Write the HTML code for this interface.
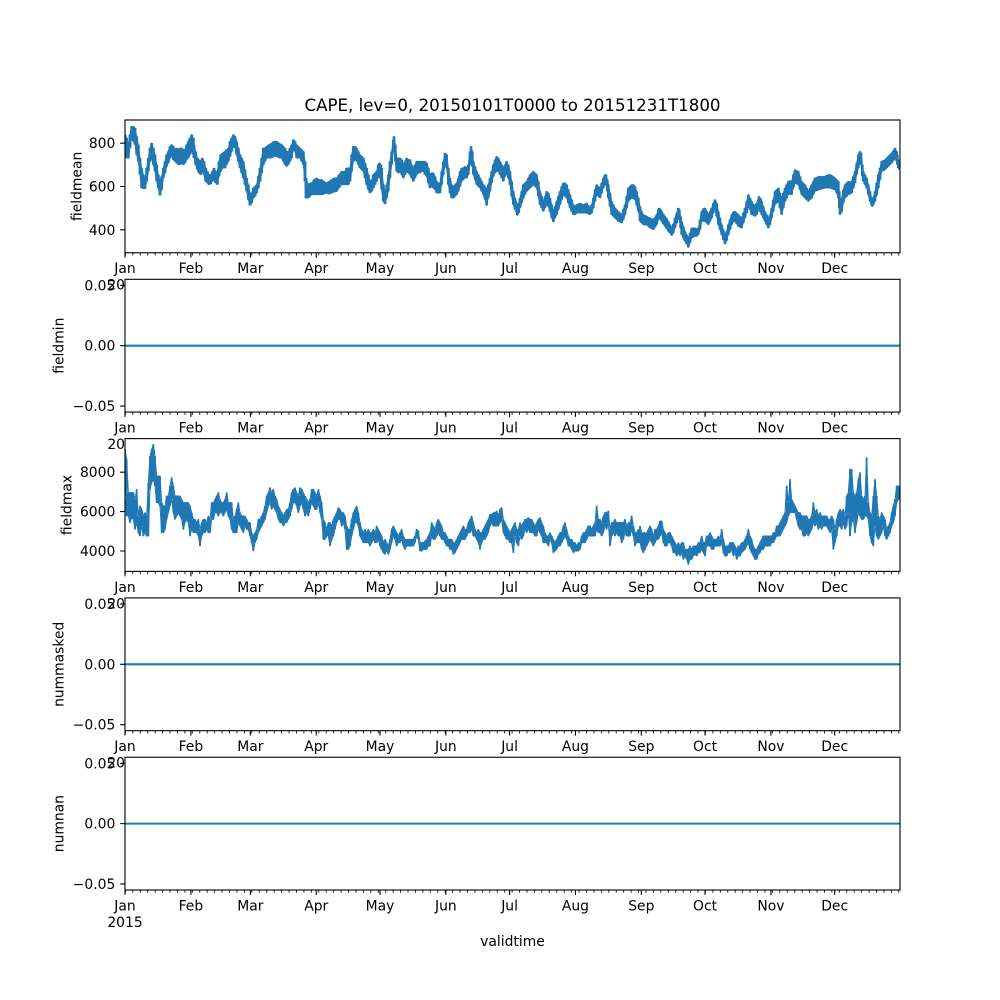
<!DOCTYPE html>
<html><head><meta charset="utf-8"><style>
html,body{margin:0;padding:0;background:#fff;}
svg{display:block;}
text{font-family:"DejaVu Sans","Liberation Sans",sans-serif;fill:#000;}
.tk{font-size:13.89px;}
.d{fill:none;stroke:#1f77b4;stroke-linejoin:round;}
</style></head><body>
<svg width="1000" height="1000" viewBox="0 0 1000 1000" xmlns="http://www.w3.org/2000/svg">
<defs>
<clipPath id="c1"><rect x="125" y="120" width="775" height="132.76"/></clipPath>
<clipPath id="c3"><rect x="125" y="438.62" width="775" height="132.76"/></clipPath>
</defs>
<rect width="1000" height="1000" fill="#fff"/>

<text x="512.5" y="111" font-size="16.67" text-anchor="middle">CAPE, lev=0, 20150101T0000 to 20151231T1800</text>

<!-- ================= PANEL 1 ================= -->
<rect x="125" y="120" width="775" height="132.76" fill="#fff"/>
<g clip-path="url(#c1)">
<g transform="translate(120 118) scale(0.333333)">
<path class="d" stroke-width="8.5" d="M15 50V115M20 60V120M25 80V120M30 50V90M35 25V60M40 25V70M45 30V80M50 55V110M55 80V130M60 120V170M65 150V210M70 170V212M75 185V212M80 150V190M85 120V160M90 90V130M95 75V120M100 90V140M105 110V160M110 140V190M115 170V210M120 190V232M125 175V215M130 150V180M135 130V165M140 110V145M145 100V135M150 85V120M155 80V110M160 85V125M165 95V130M170 90V135M175 95V140M180 90V140M185 90V135M190 95V140M195 95V135M200 80V125M205 70V120M210 60V110M215 50V100M220 60V110M222 80V120M227 100V140M232 120V155M237 125V165M242 130V170M247 120V160M252 130V170M257 150V190M262 160V195M267 170V200M272 170V198M277 160V190M282 150V185M287 160V195M292 160V200M297 130V175M302 110V160M308 105V150M315 100V150M320 95V140M325 90V130M330 70V115M335 60V100M340 50V85M345 55V90M350 70V110M355 90V130M360 110V150M365 120V165M370 130V180M375 155V200M380 180V220M385 200V245M390 225V262M395 225V255M400 210V240M405 205V235M410 200V225M415 175V210M420 150V190M425 120V165M430 90V140M435 90V130M440 85V120M447 80V120M455 75V120M462 70V115M470 70V115M477 75V120M485 80V120M490 85V130M495 90V140M500 100V145M505 100V140M510 90V130M515 80V120M520 65V95M525 70V100M530 80V120M535 85V120M540 90V120M545 95V130M550 100V140M555 130V190M558 180V240M565 200V240M570 195V235M575 195V230M582 185V230M590 180V230M597 185V230M605 185V230M612 190V228M620 195V225M627 190V228M635 185V225M642 180V222M650 180V220M657 170V210M665 160V200M670 160V200M675 160V200M680 150V200M685 150V200M690 150V190M695 110V160M700 85V130M705 85V125M710 90V130M715 100V140M720 110V150M725 115V155M730 120V160M735 135V180M740 150V200M745 170V215M750 190V225M755 185V220M760 170V210M765 165V200M770 160V190M775 140V175M778 135V170M782 140V180M785 150V200M790 200V240M795 225V255"/>
<path class="d" stroke-width="3" d="M15 50L20 60 25 80 30 50 35 25 40 25 45 30 50 55 55 80 60 120 65 150 70 170 75 185 80 150 85 120 90 90 95 75 100 90 105 110 110 140 115 170 120 190 125 175 130 150 135 130 140 110 145 100 150 85 155 80 160 85 165 95 170 90 175 95 180 90 185 90 190 95 195 95 200 80 205 70 210 60 215 50 220 60 222 80 227 100 232 120 237 125 242 130 247 120 252 130 257 150 262 160 267 170 272 170 277 160 282 150 287 160 292 160 297 130 302 110 308 105 315 100 320 95 325 90 330 70 335 60 340 50 345 55 350 70 355 90 360 110 365 120 370 130 375 155 380 180 385 200 390 225 395 225 400 210 405 205 410 200 415 175 420 150 425 120 430 90 435 90 440 85 447 80 455 75 462 70 470 70 477 75 485 80 490 85 495 90 500 100 505 100 510 90 515 80 520 65 525 70 530 80 535 85 540 90 545 95 550 100 555 130 558 180 565 200 570 195 575 195 582 185 590 180 597 185 605 185 612 190 620 195 627 190 635 185 642 180 650 180 657 170 665 160 670 160 675 160 680 150 685 150 690 150 695 110 700 85 705 85 710 90 715 100 720 110 725 115 730 120 735 135 740 150 745 170 750 190 755 185 760 170 765 165 770 160 775 140 778 135 782 140 785 150 790 200 795 225"/>
<path class="d" stroke-width="3" d="M15 115L20 120 25 120 30 90 35 60 40 70 45 80 50 110 55 130 60 170 65 210 70 212 75 212 80 190 85 160 90 130 95 120 100 140 105 160 110 190 115 210 120 232 125 215 130 180 135 165 140 145 145 135 150 120 155 110 160 125 165 130 170 135 175 140 180 140 185 135 190 140 195 135 200 125 205 120 210 110 215 100 220 110 222 120 227 140 232 155 237 165 242 170 247 160 252 170 257 190 262 195 267 200 272 198 277 190 282 185 287 195 292 200 297 175 302 160 308 150 315 150 320 140 325 130 330 115 335 100 340 85 345 90 350 110 355 130 360 150 365 165 370 180 375 200 380 220 385 245 390 262 395 255 400 240 405 235 410 225 415 210 420 190 425 165 430 140 435 130 440 120 447 120 455 120 462 115 470 115 477 120 485 120 490 130 495 140 500 145 505 140 510 130 515 120 520 95 525 100 530 120 535 120 540 120 545 130 550 140 555 190 558 240 565 240 570 235 575 230 582 230 590 230 597 230 605 230 612 228 620 225 627 228 635 225 642 222 650 220 657 210 665 200 670 200 675 200 680 200 685 200 690 190 695 160 700 130 705 125 710 130 715 140 720 150 725 155 730 160 735 180 740 200 745 215 750 225 755 220 760 210 765 200 770 190 775 175 778 170 782 180 785 200 790 240 795 255"/>
</g>
<g transform="translate(380 118) scale(0.333333)">
<path class="d" stroke-width="8" d="M0 140V180M5 170V215M10 200V250M15 225V258M20 200V240M25 170V220M30 130V180M35 100V140M40 65V100M42 55V90M46 80V130M50 120V160M55 120V165M60 120V160M65 125V170M70 140V180M75 130V170M80 120V160M85 125V165M90 125V170M95 140V180M100 150V190M105 140V180M110 130V170M115 130V165M120 130V165M125 130V160M130 130V160M135 130V170M140 135V175M145 150V195M150 170V210M155 165V205M160 165V210M165 175V215M170 190V225M175 195V225M180 195V225M185 160V200M190 130V170M195 105V140M200 110V150M205 150V200M210 180V225M215 200V240M220 205V240M225 200V235M230 195V230M235 180V220M240 160V205M245 150V190M250 150V185M255 145V180M260 150V180M265 140V170M270 100V140M273 85V120M277 100V145M280 130V170M285 145V185M290 160V200M295 170V205M300 180V210M305 190V220M310 200V230M315 205V245M320 215V262M325 200V240M330 180V220M335 160V195M340 140V175M345 125V165M350 115V160M355 120V160M360 130V170M365 140V180M370 150V190M375 140V175M380 130V165M385 140V180M390 160V200M395 190V235M400 220V260M405 240V275M412 260V292M416 255V285M420 240V270M425 220V255M430 200V240M435 195V230M440 190V220M445 180V215M450 170V210M455 165V205M460 160V200M465 165V205M470 170V210M475 190V235M480 220V260M485 235V270M490 250V280M495 235V270M500 220V260M505 225V265M510 240V280M515 260V300M520 280V312M525 265V300M530 250V290M535 235V275M540 220V260M545 205V245M550 195V230M555 195V235M560 200V240M565 215V255M570 230V270M575 245V280M580 260V290M585 265V290M590 260V285M595 258V285M600 255V285M605 258V285M610 260V285M615 258V285M620 255V285M625 262V288M630 270V290M635 260V285M640 240V270M645 215V250M650 200V230M655 205V235M660 210V240M665 195V225M670 180V210M675 170V200M678 170V200M682 185V220M685 200V240M690 225V265M695 250V290M700 260V295M705 270V300M710 275V305M715 280V310M720 285V312M725 290V315M730 275V305M735 260V290M740 235V270M745 210V250M750 205V245M755 200V240M760 200V242M765 205V245M770 220V262M775 240V280M780 265V298M785 285V310M790 295V318M795 305V322"/>
<path class="d" stroke-width="3" d="M0 140L5 170 10 200 15 225 20 200 25 170 30 130 35 100 40 65 42 55 46 80 50 120 55 120 60 120 65 125 70 140 75 130 80 120 85 125 90 125 95 140 100 150 105 140 110 130 115 130 120 130 125 130 130 130 135 130 140 135 145 150 150 170 155 165 160 165 165 175 170 190 175 195 180 195 185 160 190 130 195 105 200 110 205 150 210 180 215 200 220 205 225 200 230 195 235 180 240 160 245 150 250 150 255 145 260 150 265 140 270 100 273 85 277 100 280 130 285 145 290 160 295 170 300 180 305 190 310 200 315 205 320 215 325 200 330 180 335 160 340 140 345 125 350 115 355 120 360 130 365 140 370 150 375 140 380 130 385 140 390 160 395 190 400 220 405 240 412 260 416 255 420 240 425 220 430 200 435 195 440 190 445 180 450 170 455 165 460 160 465 165 470 170 475 190 480 220 485 235 490 250 495 235 500 220 505 225 510 240 515 260 520 280 525 265 530 250 535 235 540 220 545 205 550 195 555 195 560 200 565 215 570 230 575 245 580 260 585 265 590 260 595 258 600 255 605 258 610 260 615 258 620 255 625 262 630 270 635 260 640 240 645 215 650 200 655 205 660 210 665 195 670 180 675 170 678 170 682 185 685 200 690 225 695 250 700 260 705 270 710 275 715 280 720 285 725 290 730 275 735 260 740 235 745 210 750 205 755 200 760 200 765 205 770 220 775 240 780 265 785 285 790 295 795 305"/>
<path class="d" stroke-width="3" d="M0 180L5 215 10 250 15 258 20 240 25 220 30 180 35 140 40 100 42 90 46 130 50 160 55 165 60 160 65 170 70 180 75 170 80 160 85 165 90 170 95 180 100 190 105 180 110 170 115 165 120 165 125 160 130 160 135 170 140 175 145 195 150 210 155 205 160 210 165 215 170 225 175 225 180 225 185 200 190 170 195 140 200 150 205 200 210 225 215 240 220 240 225 235 230 230 235 220 240 205 245 190 250 185 255 180 260 180 265 170 270 140 273 120 277 145 280 170 285 185 290 200 295 205 300 210 305 220 310 230 315 245 320 262 325 240 330 220 335 195 340 175 345 165 350 160 355 160 360 170 365 180 370 190 375 175 380 165 385 180 390 200 395 235 400 260 405 275 412 292 416 285 420 270 425 255 430 240 435 230 440 220 445 215 450 210 455 205 460 200 465 205 470 210 475 235 480 260 485 270 490 280 495 270 500 260 505 265 510 280 515 300 520 312 525 300 530 290 535 275 540 260 545 245 550 230 555 235 560 240 565 255 570 270 575 280 580 290 585 290 590 285 595 285 600 285 605 285 610 285 615 285 620 285 625 288 630 290 635 285 640 270 645 250 650 230 655 235 660 240 665 225 670 210 675 200 678 200 682 220 685 240 690 265 695 290 700 295 705 300 710 305 715 310 720 312 725 315 730 305 735 290 740 270 745 250 750 245 755 240 760 242 765 245 770 262 775 280 780 298 785 310 790 318 795 322"/>
</g>
<g transform="translate(640 118) scale(0.333333)">
<path class="d" stroke-width="8" d="M0 270V310M5 280V315M10 290V320M15 292V320M20 295V320M25 298V325M30 300V330M35 302V332M40 305V335M45 298V328M50 290V320M55 275V305M58 270V300M62 275V305M65 280V310M70 288V318M75 295V325M80 302V332M85 310V340M90 320V345M95 330V352M100 318V345M105 300V330M110 285V315M115 270V300M118 275V305M122 295V330M125 310V350M130 325V360M135 340V370M140 350V378M145 360V388M150 345V375M155 330V360M160 330V358M165 330V355M170 332V355M175 330V350M180 305V335M185 280V310M190 272V310M195 270V310M200 280V315M205 290V320M210 280V310M215 270V300M220 255V285M225 245V270M230 255V295M235 280V320M240 300V335M245 320V350M250 335V365M255 350V378M260 340V368M265 320V350M270 305V335M275 290V320M280 282V312M285 280V310M290 285V318M295 290V325M300 295V328M305 300V330M310 285V315M315 270V300M320 250V285M325 230V265M330 240V275M335 250V290M340 258V292M345 265V295M350 255V290M357 235V275M362 242V282M365 250V290M370 265V300M375 280V310M380 290V320M385 300V330M390 290V320M395 270V300M400 245V280M405 220V260M410 215V255M415 210V250M420 225V270M425 240V290M430 225V270M435 210V250M440 200V240M445 190V230M450 188V228M455 190V230M460 170V210M465 155V195M470 158V198M475 160V200M480 175V215M485 190V230M490 195V235M495 200V240M500 210V245M505 220V250M510 210V245M515 200V240M520 190V230M525 180V220M530 178V218M535 176V216M540 175V215M545 175V212M550 176V212M555 175V210M560 172V210M565 170V210M570 170V210M575 172V212M580 176V214M585 180V215M590 185V225M595 190V240M598 220V270M600 240V290M603 245V285M605 240V280M610 215V255M615 200V240M620 195V235M625 190V230M630 192V228M635 190V225M640 175V210M645 160V195M650 135V170M655 110V150M660 100V130M663 105V140M667 140V175M670 160V190M675 170V200M680 180V210M685 200V230M690 220V250M695 240V262M697 245V265M700 238V260M705 220V250M710 195V232M715 170V210M720 150V185M725 130V160M730 128V158M735 125V155M740 120V150M745 115V145M750 110V140M755 105V135M760 98V128M765 90V120M770 100V130M772 110V140M775 125V150M778 140V155"/>
<path class="d" stroke-width="3" d="M0 270L5 280 10 290 15 292 20 295 25 298 30 300 35 302 40 305 45 298 50 290 55 275 58 270 62 275 65 280 70 288 75 295 80 302 85 310 90 320 95 330 100 318 105 300 110 285 115 270 118 275 122 295 125 310 130 325 135 340 140 350 145 360 150 345 155 330 160 330 165 330 170 332 175 330 180 305 185 280 190 272 195 270 200 280 205 290 210 280 215 270 220 255 225 245 230 255 235 280 240 300 245 320 250 335 255 350 260 340 265 320 270 305 275 290 280 282 285 280 290 285 295 290 300 295 305 300 310 285 315 270 320 250 325 230 330 240 335 250 340 258 345 265 350 255 357 235 362 242 365 250 370 265 375 280 380 290 385 300 390 290 395 270 400 245 405 220 410 215 415 210 420 225 425 240 430 225 435 210 440 200 445 190 450 188 455 190 460 170 465 155 470 158 475 160 480 175 485 190 490 195 495 200 500 210 505 220 510 210 515 200 520 190 525 180 530 178 535 176 540 175 545 175 550 176 555 175 560 172 565 170 570 170 575 172 580 176 585 180 590 185 595 190 598 220 600 240 603 245 605 240 610 215 615 200 620 195 625 190 630 192 635 190 640 175 645 160 650 135 655 110 660 100 663 105 667 140 670 160 675 170 680 180 685 200 690 220 695 240 697 245 700 238 705 220 710 195 715 170 720 150 725 130 730 128 735 125 740 120 745 115 750 110 755 105 760 98 765 90 770 100 772 110 775 125 778 140"/>
<path class="d" stroke-width="3" d="M0 310L5 315 10 320 15 320 20 320 25 325 30 330 35 332 40 335 45 328 50 320 55 305 58 300 62 305 65 310 70 318 75 325 80 332 85 340 90 345 95 352 100 345 105 330 110 315 115 300 118 305 122 330 125 350 130 360 135 370 140 378 145 388 150 375 155 360 160 358 165 355 170 355 175 350 180 335 185 310 190 310 195 310 200 315 205 320 210 310 215 300 220 285 225 270 230 295 235 320 240 335 245 350 250 365 255 378 260 368 265 350 270 335 275 320 280 312 285 310 290 318 295 325 300 328 305 330 310 315 315 300 320 285 325 265 330 275 335 290 340 292 345 295 350 290 357 275 362 282 365 290 370 300 375 310 380 320 385 330 390 320 395 300 400 280 405 260 410 255 415 250 420 270 425 290 430 270 435 250 440 240 445 230 450 228 455 230 460 210 465 195 470 198 475 200 480 215 485 230 490 235 495 240 500 245 505 250 510 245 515 240 520 230 525 220 530 218 535 216 540 215 545 212 550 212 555 210 560 210 565 210 570 210 575 212 580 214 585 215 590 225 595 240 598 270 600 290 603 285 605 280 610 255 615 240 620 235 625 230 630 228 635 225 640 210 645 195 650 170 655 150 660 130 663 140 667 175 670 190 675 200 680 210 685 230 690 250 695 262 697 265 700 260 705 250 710 232 715 210 720 185 725 160 730 158 735 155 740 150 745 145 750 140 755 135 760 128 765 120 770 130 772 140 775 150 778 155"/>
</g>
</g>
<rect x="125" y="120" width="775" height="132.76" fill="none" stroke="#000" stroke-width="1.1"/>
<path d="M120.14 229.8H125M120.14 186.5H125M120.14 143.2H125" stroke="#000" stroke-width="1.1"/>
<text class="tk" x="115.3" y="234.8" text-anchor="end">400</text>
<text class="tk" x="115.3" y="191.5" text-anchor="end">600</text>
<text class="tk" x="115.3" y="148.2" text-anchor="end">800</text>
<text class="tk" transform="translate(81.5 186.38) rotate(-90)" text-anchor="middle">fieldmean</text>
<g transform="translate(0 252.76)">
<path d="M125 0v4.86M190.87 0v4.86M250.36 0v4.86M316.23 0v4.86M379.97 0v4.86M445.84 0v4.86M509.58 0v4.86M575.45 0v4.86M641.31 0v4.86M705.05 0v4.86M770.92 0v4.86M834.66 0v4.86" stroke="#000" stroke-width="1.1"/>
<line x1="125" y1="1.39" x2="900.5" y2="1.39" stroke="#000" stroke-width="2.78" stroke-dasharray="0.83 6.6066"/>
<g class="tk" text-anchor="middle">
<text x="125" y="20.4">Jan</text><text x="125" y="36.9">2015</text>
<text x="190.87" y="20.4">Feb</text><text x="250.36" y="20.4">Mar</text><text x="316.23" y="20.4">Apr</text><text x="379.97" y="20.4">May</text><text x="445.84" y="20.4">Jun</text><text x="509.58" y="20.4">Jul</text><text x="575.45" y="20.4">Aug</text><text x="641.31" y="20.4">Sep</text><text x="705.05" y="20.4">Oct</text><text x="770.92" y="20.4">Nov</text><text x="834.66" y="20.4">Dec</text>
</g>
</g>

<!-- ================= PANEL 2 ================= -->
<rect x="125" y="279.31" width="775" height="132.76" fill="#fff"/>
<line x1="125" y1="345.69" x2="900" y2="345.69" stroke="#1f77b4" stroke-width="2.08"/>
<rect x="125" y="279.31" width="775" height="132.76" fill="none" stroke="#000" stroke-width="1.1"/>
<path d="M120.14 285.34H125M120.14 345.69H125M120.14 406.04H125" stroke="#000" stroke-width="1.1"/>
<text class="tk" x="115.3" y="290.34" text-anchor="end">0.05</text>
<text class="tk" x="115.3" y="350.69" text-anchor="end">0.00</text>
<text class="tk" x="115.3" y="411.04" text-anchor="end">−0.05</text>
<text class="tk" transform="translate(63.5 345.69) rotate(-90)" text-anchor="middle">fieldmin</text>
<g transform="translate(0 412.07)">
<path d="M125 0v4.86M190.87 0v4.86M250.36 0v4.86M316.23 0v4.86M379.97 0v4.86M445.84 0v4.86M509.58 0v4.86M575.45 0v4.86M641.31 0v4.86M705.05 0v4.86M770.92 0v4.86M834.66 0v4.86" stroke="#000" stroke-width="1.1"/>
<line x1="125" y1="1.39" x2="900.5" y2="1.39" stroke="#000" stroke-width="2.78" stroke-dasharray="0.83 6.6066"/>
<g class="tk" text-anchor="middle">
<text x="125" y="20.4">Jan</text><text x="125" y="36.9">2015</text>
<text x="190.87" y="20.4">Feb</text><text x="250.36" y="20.4">Mar</text><text x="316.23" y="20.4">Apr</text><text x="379.97" y="20.4">May</text><text x="445.84" y="20.4">Jun</text><text x="509.58" y="20.4">Jul</text><text x="575.45" y="20.4">Aug</text><text x="641.31" y="20.4">Sep</text><text x="705.05" y="20.4">Oct</text><text x="770.92" y="20.4">Nov</text><text x="834.66" y="20.4">Dec</text>
</g>
</g>

<!-- ================= PANEL 3 ================= -->
<rect x="125" y="438.62" width="775" height="132.76" fill="#fff"/>
<g clip-path="url(#c3)">
<g transform="translate(120 436) scale(0.333333)">
<path class="d" stroke-width="5.5" d="M15 40V180M20 70V240M25 170V240M30 170V260M35 170V245M40 170V250M45 190V280M50 160V260M55 240V290M60 210V300M65 220V270M70 240V300M75 230V290M80 240V300M85 140V300M90 60V160M95 40V140M100 25V130M105 60V150M110 120V200M115 120V200M120 120V210M125 200V290M130 210V290M135 210V280M140 180V250M145 180V230M150 150V210M155 125V190M160 150V230M165 180V250M170 180V240M175 180V230M180 180V240M185 190V250M190 200V280M195 200V260M200 200V250M205 200V260M210 210V300M215 230V280M220 250V290M225 250V290M230 260V290M235 250V300M240 280V330M245 260V300M250 250V290M255 250V290M260 260V280M265 240V290M270 250V290M275 200V250M280 200V250M285 190V230M290 180V230M295 170V240M300 190V230M305 200V230M310 200V240M315 190V230M320 170V220M325 200V240M330 200V250M335 200V280M340 250V290M345 240V290M350 220V290M355 200V260M360 230V270M365 240V280M370 240V290M375 240V270M380 250V280M385 260V280M390 260V300M395 290V320M400 300V345M405 290V320M410 280V310M415 250V290M420 250V280M425 240V270M430 230V260M435 210V250M440 180V230M445 170V210M450 155V200M455 170V220M460 160V210M465 180V220M470 190V230M475 210V250M480 220V260M485 230V260M490 240V270M495 230V260M500 220V260M505 220V250M510 200V240M515 170V220M520 160V200M525 155V200M530 170V210M535 180V230M540 155V210M545 160V200M550 170V220M555 180V240M560 190V230M565 200V240M570 190V220M575 160V200M580 160V210M585 170V220M590 180V220M595 160V200M600 180V230M605 200V250M610 250V310M615 260V310M620 280V300M625 260V300M630 260V330M635 270V310M640 250V300M645 240V280M650 230V260M655 215V250M660 220V250M665 230V270M670 230V260M675 240V280M680 270V340M685 280V340M690 280V330M695 250V300M700 230V280M705 220V260M710 210V260M715 230V270M720 260V300M725 280V310M730 290V320M735 280V320M740 290V320M745 280V320M750 290V330M755 290V320M760 280V310M765 290V320M770 270V320M775 280V310M780 290V330M785 300V340M790 320V350M795 330V355"/>
<path class="d" stroke-width="3" d="M15 40L20 70 25 170 30 170 35 170 40 170 45 190 50 160 55 240 60 210 65 220 70 240 75 230 80 240 85 140 90 60 95 40 100 25 105 60 110 120 115 120 120 120 125 200 130 210 135 210 140 180 145 180 150 150 155 125 160 150 165 180 170 180 175 180 180 180 185 190 190 200 195 200 200 200 205 200 210 210 215 230 220 250 225 250 230 260 235 250 240 280 245 260 250 250 255 250 260 260 265 240 270 250 275 200 280 200 285 190 290 180 295 170 300 190 305 200 310 200 315 190 320 170 325 200 330 200 335 200 340 250 345 240 350 220 355 200 360 230 365 240 370 240 375 240 380 250 385 260 390 260 395 290 400 300 405 290 410 280 415 250 420 250 425 240 430 230 435 210 440 180 445 170 450 155 455 170 460 160 465 180 470 190 475 210 480 220 485 230 490 240 495 230 500 220 505 220 510 200 515 170 520 160 525 155 530 170 535 180 540 155 545 160 550 170 555 180 560 190 565 200 570 190 575 160 580 160 585 170 590 180 595 160 600 180 605 200 610 250 615 260 620 280 625 260 630 260 635 270 640 250 645 240 650 230 655 215 660 220 665 230 670 230 675 240 680 270 685 280 690 280 695 250 700 230 705 220 710 210 715 230 720 260 725 280 730 290 735 280 740 290 745 280 750 290 755 290 760 280 765 290 770 270 775 280 780 290 785 300 790 320 795 330"/>
<path class="d" stroke-width="3" d="M15 180L20 240 25 240 30 260 35 245 40 250 45 280 50 260 55 290 60 300 65 270 70 300 75 290 80 300 85 300 90 160 95 140 100 130 105 150 110 200 115 200 120 210 125 290 130 290 135 280 140 250 145 230 150 210 155 190 160 230 165 250 170 240 175 230 180 240 185 250 190 280 195 260 200 250 205 260 210 300 215 280 220 290 225 290 230 290 235 300 240 330 245 300 250 290 255 290 260 280 265 290 270 290 275 250 280 250 285 230 290 230 295 240 300 230 305 230 310 240 315 230 320 220 325 240 330 250 335 280 340 290 345 290 350 290 355 260 360 270 365 280 370 290 375 270 380 280 385 280 390 300 395 320 400 345 405 320 410 310 415 290 420 280 425 270 430 260 435 250 440 230 445 210 450 200 455 220 460 210 465 220 470 230 475 250 480 260 485 260 490 270 495 260 500 260 505 250 510 240 515 220 520 200 525 200 530 210 535 230 540 210 545 200 550 220 555 240 560 230 565 240 570 220 575 200 580 210 585 220 590 220 595 200 600 230 605 250 610 310 615 310 620 300 625 300 630 330 635 310 640 300 645 280 650 260 655 250 660 250 665 270 670 260 675 280 680 340 685 340 690 330 695 300 700 280 705 260 710 260 715 270 720 300 725 310 730 320 735 320 740 320 745 320 750 330 755 320 760 310 765 320 770 320 775 310 780 330 785 340 790 350 795 355"/>
</g>
<g transform="translate(380 436) scale(0.333333)">
<path class="d" stroke-width="5.5" d="M0 300V330M5 300V340M10 320V350M15 310V350M20 320V345M25 330V355M30 310V340M35 280V320M40 270V300M45 280V310M50 290V330M55 300V320M60 290V320M65 280V310M70 300V330M75 310V340M80 310V330M85 310V330M90 310V330M95 310V330M100 310V330M105 300V320M110 280V300M115 285V310M120 320V345M125 320V345M130 320V340M135 315V340M140 310V340M145 300V330M150 290V330M155 260V300M160 270V310M165 280V310M170 260V300M175 250V290M180 260V300M185 270V310M190 290V310M195 290V320M200 300V330M205 310V330M210 310V340M215 310V340M220 320V355M225 320V350M230 310V340M235 300V330M240 290V320M245 280V310M250 270V310M255 280V310M260 280V300M265 260V290M270 250V290M275 240V280M280 260V300M285 280V300M290 290V310M295 280V320M300 290V340M305 290V320M310 280V310M315 270V310M320 260V300M325 250V290M330 235V270M335 235V260M340 230V270M345 230V270M350 225V270M355 240V270M360 220V260M365 215V250M370 250V290M375 260V300M380 270V310M385 280V310M390 290V320M395 280V320M400 270V350M405 260V300M410 280V320M415 280V330M420 260V300M425 270V310M430 260V300M435 250V280M440 250V290M445 245V280M450 250V290M455 250V290M460 260V290M465 270V300M470 260V300M475 250V280M480 245V290M485 260V300M490 270V320M495 290V320M500 300V320M505 300V330M510 290V310M515 300V320M520 310V350M525 320V345M530 310V340M535 300V330M540 290V330M545 290V320M550 270V310M555 260V300M560 280V310M565 300V330M570 310V330M575 310V340M580 320V350M585 320V345M590 330V345M595 320V345M600 320V340M605 300V320M610 290V320M615 290V320M620 280V310M625 270V300M630 270V300M635 280V300M640 270V300M645 260V300M650 210V280M655 250V290M660 250V290M665 260V300M670 240V290M675 230V270M680 230V280M685 225V260M690 280V330M695 260V300M700 260V290M705 250V300M710 260V290M715 260V300M720 260V300M725 260V320M730 260V310M735 250V290M740 270V300M745 260V300M750 260V300M755 240V280M760 270V300M765 290V330M770 290V320M775 280V320M780 290V320M785 300V340M790 290V350M795 290V320"/>
<path class="d" stroke-width="3" d="M0 300L5 300 10 320 15 310 20 320 25 330 30 310 35 280 40 270 45 280 50 290 55 300 60 290 65 280 70 300 75 310 80 310 85 310 90 310 95 310 100 310 105 300 110 280 115 285 120 320 125 320 130 320 135 315 140 310 145 300 150 290 155 260 160 270 165 280 170 260 175 250 180 260 185 270 190 290 195 290 200 300 205 310 210 310 215 310 220 320 225 320 230 310 235 300 240 290 245 280 250 270 255 280 260 280 265 260 270 250 275 240 280 260 285 280 290 290 295 280 300 290 305 290 310 280 315 270 320 260 325 250 330 235 335 235 340 230 345 230 350 225 355 240 360 220 365 215 370 250 375 260 380 270 385 280 390 290 395 280 400 270 405 260 410 280 415 280 420 260 425 270 430 260 435 250 440 250 445 245 450 250 455 250 460 260 465 270 470 260 475 250 480 245 485 260 490 270 495 290 500 300 505 300 510 290 515 300 520 310 525 320 530 310 535 300 540 290 545 290 550 270 555 260 560 280 565 300 570 310 575 310 580 320 585 320 590 330 595 320 600 320 605 300 610 290 615 290 620 280 625 270 630 270 635 280 640 270 645 260 650 210 655 250 660 250 665 260 670 240 675 230 680 230 685 225 690 280 695 260 700 260 705 250 710 260 715 260 720 260 725 260 730 260 735 250 740 270 745 260 750 260 755 240 760 270 765 290 770 290 775 280 780 290 785 300 790 290 795 290"/>
<path class="d" stroke-width="3" d="M0 330L5 340 10 350 15 350 20 345 25 355 30 340 35 320 40 300 45 310 50 330 55 320 60 320 65 310 70 330 75 340 80 330 85 330 90 330 95 330 100 330 105 320 110 300 115 310 120 345 125 345 130 340 135 340 140 340 145 330 150 330 155 300 160 310 165 310 170 300 175 290 180 300 185 310 190 310 195 320 200 330 205 330 210 340 215 340 220 355 225 350 230 340 235 330 240 320 245 310 250 310 255 310 260 300 265 290 270 290 275 280 280 300 285 300 290 310 295 320 300 340 305 320 310 310 315 310 320 300 325 290 330 270 335 260 340 270 345 270 350 270 355 270 360 260 365 250 370 290 375 300 380 310 385 310 390 320 395 320 400 350 405 300 410 320 415 330 420 300 425 310 430 300 435 280 440 290 445 280 450 290 455 290 460 290 465 300 470 300 475 280 480 290 485 300 490 320 495 320 500 320 505 330 510 310 515 320 520 350 525 345 530 340 535 330 540 330 545 320 550 310 555 300 560 310 565 330 570 330 575 340 580 350 585 345 590 345 595 345 600 340 605 320 610 320 615 320 620 310 625 300 630 300 635 300 640 300 645 300 650 280 655 290 660 290 665 300 670 290 675 270 680 280 685 260 690 330 695 300 700 290 705 300 710 290 715 300 720 300 725 320 730 310 735 290 740 300 745 300 750 300 755 280 760 300 765 330 770 320 775 320 780 320 785 340 790 350 795 320"/>
</g>
<g transform="translate(640 436) scale(0.333333)">
<path class="d" stroke-width="5.5" d="M0 270V320M5 290V330M10 310V350M15 300V340M20 290V330M25 280V320M30 270V310M35 280V320M40 300V330M45 280V320M50 280V310M55 270V310M60 255V300M65 255V290M70 280V320M75 290V330M80 300V330M85 290V320M90 290V320M95 300V330M100 310V350M105 320V350M110 330V360M115 320V350M120 330V360M125 320V350M130 320V370M135 340V360M140 340V370M145 340V385M150 330V370M155 340V370M160 330V360M165 330V355M170 330V360M175 320V350M180 320V350M185 300V340M190 320V350M195 320V360M200 300V330M205 300V330M210 290V330M215 300V340M220 310V340M225 310V330M230 310V330M235 300V330M240 310V330M245 280V320M250 310V350M255 330V360M260 330V360M265 330V350M270 320V350M275 320V340M280 320V360M285 330V350M290 340V370M295 330V360M300 330V360M305 320V350M310 320V345M315 310V340M320 300V330M325 280V320M330 300V340M335 310V350M340 330V360M345 340V370M350 340V370M355 330V355M360 320V350M365 310V340M370 300V340M375 300V330M380 300V330M385 300V330M390 300V330M395 300V320M400 290V320M405 290V310M410 270V300M415 270V300M420 260V300M425 250V290M430 240V280M435 230V270M440 150V260M445 200V240M450 130V230M455 190V230M460 200V230M465 210V230M470 220V250M475 230V270M480 230V280M485 240V280M490 240V300M495 240V300M500 240V290M505 250V300M510 250V290M515 240V280M520 200V260M525 230V270M530 220V260M535 240V280M540 230V270M545 240V280M550 240V270M555 240V270M560 240V270M565 250V280M570 250V290M575 240V280M580 250V340M585 280V320M590 250V300M595 230V270M600 220V270M605 230V280M610 220V260M615 240V280M620 180V270M625 170V230M630 100V300M635 100V260M640 170V250M645 180V290M650 170V260M655 130V230M660 110V240M665 180V250M670 190V250M675 180V240M680 65V240M685 200V250M690 230V300M695 240V320M700 180V330M705 130V270M710 180V300M715 240V310M720 250V300M725 230V290M730 240V270M735 250V300M740 280V310M745 270V300M750 260V290M755 230V270M760 210V260M765 190V240M770 150V200M775 150V190M780 155V190"/>
<path class="d" stroke-width="3" d="M0 270L5 290 10 310 15 300 20 290 25 280 30 270 35 280 40 300 45 280 50 280 55 270 60 255 65 255 70 280 75 290 80 300 85 290 90 290 95 300 100 310 105 320 110 330 115 320 120 330 125 320 130 320 135 340 140 340 145 340 150 330 155 340 160 330 165 330 170 330 175 320 180 320 185 300 190 320 195 320 200 300 205 300 210 290 215 300 220 310 225 310 230 310 235 300 240 310 245 280 250 310 255 330 260 330 265 330 270 320 275 320 280 320 285 330 290 340 295 330 300 330 305 320 310 320 315 310 320 300 325 280 330 300 335 310 340 330 345 340 350 340 355 330 360 320 365 310 370 300 375 300 380 300 385 300 390 300 395 300 400 290 405 290 410 270 415 270 420 260 425 250 430 240 435 230 440 150 445 200 450 130 455 190 460 200 465 210 470 220 475 230 480 230 485 240 490 240 495 240 500 240 505 250 510 250 515 240 520 200 525 230 530 220 535 240 540 230 545 240 550 240 555 240 560 240 565 250 570 250 575 240 580 250 585 280 590 250 595 230 600 220 605 230 610 220 615 240 620 180 625 170 630 100 635 100 640 170 645 180 650 170 655 130 660 110 665 180 670 190 675 180 680 65 685 200 690 230 695 240 700 180 705 130 710 180 715 240 720 250 725 230 730 240 735 250 740 280 745 270 750 260 755 230 760 210 765 190 770 150 775 150 780 155"/>
<path class="d" stroke-width="3" d="M0 320L5 330 10 350 15 340 20 330 25 320 30 310 35 320 40 330 45 320 50 310 55 310 60 300 65 290 70 320 75 330 80 330 85 320 90 320 95 330 100 350 105 350 110 360 115 350 120 360 125 350 130 370 135 360 140 370 145 385 150 370 155 370 160 360 165 355 170 360 175 350 180 350 185 340 190 350 195 360 200 330 205 330 210 330 215 340 220 340 225 330 230 330 235 330 240 330 245 320 250 350 255 360 260 360 265 350 270 350 275 340 280 360 285 350 290 370 295 360 300 360 305 350 310 345 315 340 320 330 325 320 330 340 335 350 340 360 345 370 350 370 355 355 360 350 365 340 370 340 375 330 380 330 385 330 390 330 395 320 400 320 405 310 410 300 415 300 420 300 425 290 430 280 435 270 440 260 445 240 450 230 455 230 460 230 465 230 470 250 475 270 480 280 485 280 490 300 495 300 500 290 505 300 510 290 515 280 520 260 525 270 530 260 535 280 540 270 545 280 550 270 555 270 560 270 565 280 570 290 575 280 580 340 585 320 590 300 595 270 600 270 605 280 610 260 615 280 620 270 625 230 630 300 635 260 640 250 645 290 650 260 655 230 660 240 665 250 670 250 675 240 680 240 685 250 690 300 695 320 700 330 705 270 710 300 715 310 720 300 725 290 730 270 735 300 740 310 745 300 750 290 755 270 760 260 765 240 770 200 775 190 780 190"/>
</g>
</g>
<rect x="125" y="438.62" width="775" height="132.76" fill="none" stroke="#000" stroke-width="1.1"/>
<path d="M120.14 551.0H125M120.14 511.6H125M120.14 472.2H125" stroke="#000" stroke-width="1.1"/>
<text class="tk" x="115.3" y="556.0" text-anchor="end">4000</text>
<text class="tk" x="115.3" y="516.6" text-anchor="end">6000</text>
<text class="tk" x="115.3" y="477.2" text-anchor="end">8000</text>
<text class="tk" transform="translate(71.3 505) rotate(-90)" text-anchor="middle">fieldmax</text>
<g transform="translate(0 571.38)">
<path d="M125 0v4.86M190.87 0v4.86M250.36 0v4.86M316.23 0v4.86M379.97 0v4.86M445.84 0v4.86M509.58 0v4.86M575.45 0v4.86M641.31 0v4.86M705.05 0v4.86M770.92 0v4.86M834.66 0v4.86" stroke="#000" stroke-width="1.1"/>
<line x1="125" y1="1.39" x2="900.5" y2="1.39" stroke="#000" stroke-width="2.78" stroke-dasharray="0.83 6.6066"/>
<g class="tk" text-anchor="middle">
<text x="125" y="20.4">Jan</text><text x="125" y="36.9">2015</text>
<text x="190.87" y="20.4">Feb</text><text x="250.36" y="20.4">Mar</text><text x="316.23" y="20.4">Apr</text><text x="379.97" y="20.4">May</text><text x="445.84" y="20.4">Jun</text><text x="509.58" y="20.4">Jul</text><text x="575.45" y="20.4">Aug</text><text x="641.31" y="20.4">Sep</text><text x="705.05" y="20.4">Oct</text><text x="770.92" y="20.4">Nov</text><text x="834.66" y="20.4">Dec</text>
</g>
</g>

<!-- ================= PANEL 4 ================= -->
<rect x="125" y="597.93" width="775" height="132.76" fill="#fff"/>
<line x1="125" y1="664.31" x2="900" y2="664.31" stroke="#1f77b4" stroke-width="2.08"/>
<rect x="125" y="597.93" width="775" height="132.76" fill="none" stroke="#000" stroke-width="1.1"/>
<path d="M120.14 603.96H125M120.14 664.31H125M120.14 724.66H125" stroke="#000" stroke-width="1.1"/>
<text class="tk" x="115.3" y="608.96" text-anchor="end">0.05</text>
<text class="tk" x="115.3" y="669.31" text-anchor="end">0.00</text>
<text class="tk" x="115.3" y="729.66" text-anchor="end">−0.05</text>
<text class="tk" transform="translate(63.5 664.31) rotate(-90)" text-anchor="middle">nummasked</text>
<g transform="translate(0 730.69)">
<path d="M125 0v4.86M190.87 0v4.86M250.36 0v4.86M316.23 0v4.86M379.97 0v4.86M445.84 0v4.86M509.58 0v4.86M575.45 0v4.86M641.31 0v4.86M705.05 0v4.86M770.92 0v4.86M834.66 0v4.86" stroke="#000" stroke-width="1.1"/>
<line x1="125" y1="1.39" x2="900.5" y2="1.39" stroke="#000" stroke-width="2.78" stroke-dasharray="0.83 6.6066"/>
<g class="tk" text-anchor="middle">
<text x="125" y="20.4">Jan</text><text x="125" y="36.9">2015</text>
<text x="190.87" y="20.4">Feb</text><text x="250.36" y="20.4">Mar</text><text x="316.23" y="20.4">Apr</text><text x="379.97" y="20.4">May</text><text x="445.84" y="20.4">Jun</text><text x="509.58" y="20.4">Jul</text><text x="575.45" y="20.4">Aug</text><text x="641.31" y="20.4">Sep</text><text x="705.05" y="20.4">Oct</text><text x="770.92" y="20.4">Nov</text><text x="834.66" y="20.4">Dec</text>
</g>
</g>

<!-- ================= PANEL 5 ================= -->
<rect x="125" y="757.24" width="775" height="132.76" fill="#fff"/>
<line x1="125" y1="823.62" x2="900" y2="823.62" stroke="#1f77b4" stroke-width="2.08"/>
<rect x="125" y="757.24" width="775" height="132.76" fill="none" stroke="#000" stroke-width="1.1"/>
<path d="M120.14 763.27H125M120.14 823.62H125M120.14 883.97H125" stroke="#000" stroke-width="1.1"/>
<text class="tk" x="115.3" y="768.27" text-anchor="end">0.05</text>
<text class="tk" x="115.3" y="828.62" text-anchor="end">0.00</text>
<text class="tk" x="115.3" y="888.97" text-anchor="end">−0.05</text>
<text class="tk" transform="translate(63.5 823.62) rotate(-90)" text-anchor="middle">numnan</text>
<g transform="translate(0 890)">
<path d="M125 0v4.86M190.87 0v4.86M250.36 0v4.86M316.23 0v4.86M379.97 0v4.86M445.84 0v4.86M509.58 0v4.86M575.45 0v4.86M641.31 0v4.86M705.05 0v4.86M770.92 0v4.86M834.66 0v4.86" stroke="#000" stroke-width="1.1"/>
<line x1="125" y1="1.39" x2="900.5" y2="1.39" stroke="#000" stroke-width="2.78" stroke-dasharray="0.83 6.6066"/>
<g class="tk" text-anchor="middle">
<text x="125" y="20.4">Jan</text><text x="125" y="36.9">2015</text>
<text x="190.87" y="20.4">Feb</text><text x="250.36" y="20.4">Mar</text><text x="316.23" y="20.4">Apr</text><text x="379.97" y="20.4">May</text><text x="445.84" y="20.4">Jun</text><text x="509.58" y="20.4">Jul</text><text x="575.45" y="20.4">Aug</text><text x="641.31" y="20.4">Sep</text><text x="705.05" y="20.4">Oct</text><text x="770.92" y="20.4">Nov</text><text x="834.66" y="20.4">Dec</text>
</g>
</g>
<text class="tk" x="512.5" y="946" text-anchor="middle">validtime</text>
</svg>
</body></html>
